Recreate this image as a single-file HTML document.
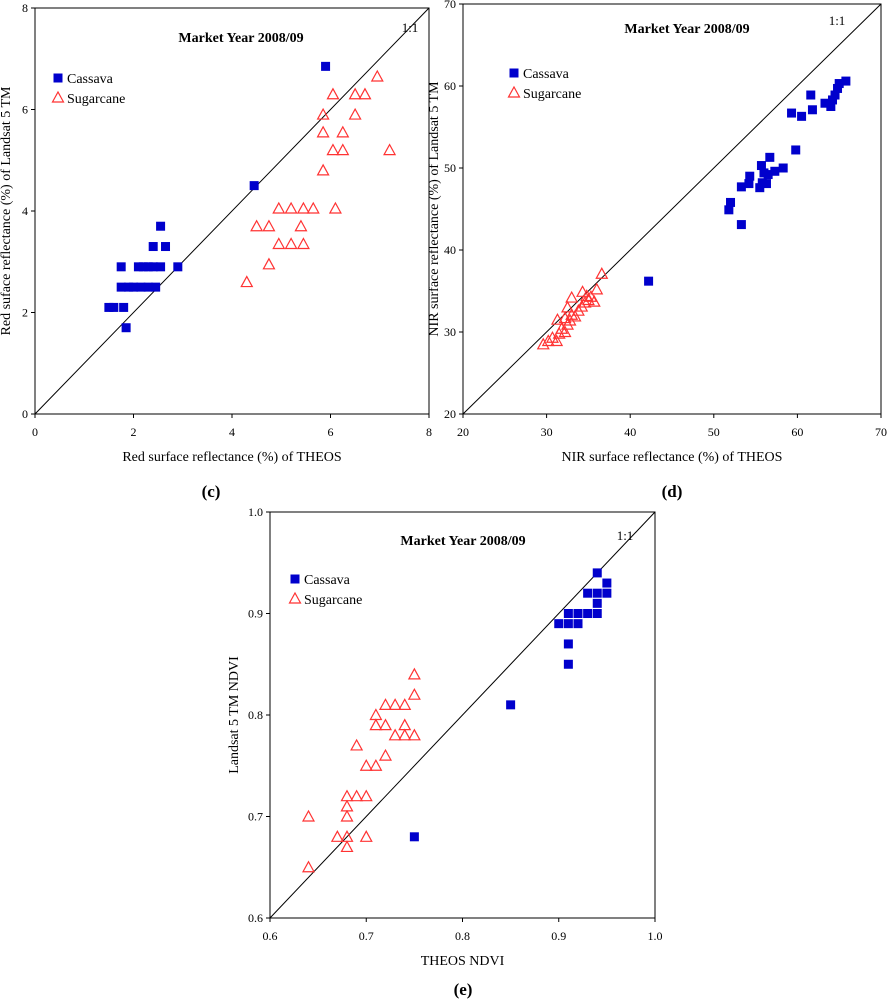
<!DOCTYPE html>
<html><head><meta charset="utf-8"><style>
body{margin:0;background:#fff;}
svg, svg text{font-family:"Liberation Serif","DejaVu Serif",serif;}
</style></head><body>
<svg id="s" width="889" height="1000" viewBox="0 0 889 1000" font-family="Liberation Serif, serif"></svg>
<script>
const cRedCassX=[1.5,1.6,1.8,1.85,1.75,1.9,2.0,2.15,2.3,2.45,1.75,2.1,2.2,2.3,2.4,2.55,2.9,2.4,2.65,2.55,4.45,5.9];
const cRedCassY=[2.1,2.1,2.1,1.7,2.5,2.5,2.5,2.5,2.5,2.5,2.9,2.9,2.9,2.9,2.9,2.9,2.9,3.3,3.3,3.7,4.5,6.85];
const cRedSugX=[4.3,4.75,4.5,4.75,5.4,4.95,5.2,5.45,4.95,5.2,5.45,5.65,6.1,5.85,6.05,6.25,7.2,5.85,6.25,5.85,6.5,6.05,6.5,6.7,6.95];
const cRedSugY=[2.6,2.95,3.7,3.7,3.7,3.35,3.35,3.35,4.05,4.05,4.05,4.05,4.05,4.8,5.2,5.2,5.2,5.55,5.55,5.9,5.9,6.3,6.3,6.3,6.65];
const dNirCassX=[42.2,53.3,51.8,52,53.3,54.2,54.3,55.5,55.8,56.3,55.7,56,56.5,56.7,57.3,58.3,59.8,59.3,60.5,61.8,61.6,63.3,64,64.2,64.5,64.8,65,65.8];
const dNirCassY=[36.2,43.1,44.9,45.8,47.7,48.1,49,47.6,48.2,48.1,50.3,49.4,49.2,51.3,49.6,50,52.2,56.7,56.3,57.1,58.9,57.9,57.5,58.3,58.9,59.7,60.3,60.6];
const dNirSugX=[29.6,30.2,30.7,31.2,31.5,31.8,32.2,32.5,32.8,31.3,32.2,33,33.4,33.8,34.2,34.6,35,35.3,35.7,33,34.3,36,36.6,32.5,34.8];
const dNirSugY=[28.5,28.9,29.3,28.9,29.8,30.4,30,30.9,31.4,31.5,31.7,32.1,31.9,32.6,33.1,33.6,33.9,34.3,33.7,34.2,34.9,35.2,37.1,33,34.4];
const eNdviCassX=[0.75,0.85,0.91,0.91,0.90,0.91,0.92,0.91,0.92,0.93,0.94,0.94,0.93,0.94,0.95,0.95,0.94];
const eNdviCassY=[0.68,0.81,0.85,0.87,0.89,0.89,0.89,0.90,0.90,0.90,0.90,0.91,0.92,0.92,0.92,0.93,0.94];
const eNdviSugX=[0.64,0.64,0.67,0.68,0.68,0.70,0.68,0.68,0.68,0.69,0.70,0.70,0.71,0.69,0.72,0.71,0.72,0.73,0.74,0.75,0.74,0.71,0.72,0.73,0.74,0.75,0.75];
const eNdviSugY=[0.70,0.65,0.68,0.68,0.67,0.68,0.70,0.71,0.72,0.72,0.72,0.75,0.75,0.77,0.76,0.79,0.79,0.78,0.78,0.78,0.79,0.80,0.81,0.81,0.81,0.82,0.84];
const cTicks=[0,2,4,6,8];
const dTicks=[20,30,40,50,60,70];
const eTicks=[0.6,0.7,0.8,0.9,1.0];
const eTickLabels=["0.6","0.7","0.8","0.9","1.0"];

const NS="http://www.w3.org/2000/svg";
const svg=document.getElementById('s');
const FF='"Liberation Serif", serif';
function mk(tag,attrs,parent,text){const e=document.createElementNS(NS,tag);for(const k in attrs)e.setAttribute(k,attrs[k]);if(text!==undefined){e.textContent=text;e.style.fontFamily=FF;}(parent||svg).appendChild(e);return e;}

function panel(p){
  const g=mk('g',{});
  
  
  const sx=v=>p.l+(v-p.min)/(p.max-p.min)*(p.r-p.l);
  const sy=v=>p.b-(v-p.min)/(p.max-p.min)*(p.b-p.t);
  const fr=mk('rect',{x:p.l,y:p.t,width:p.r-p.l,height:p.b-p.t,fill:'none',stroke:'#000','stroke-width':1},g);
  
  
  const ln=mk('line',{x1:sx(p.min),y1:sy(p.min),x2:sx(p.max),y2:sy(p.max),stroke:'#000','stroke-width':1},g);
  
  
  p.ticks.forEach((v,i)=>{
    const lab=p.labels?p.labels[i]:String(v);
    mk('line',{x1:sx(v),y1:p.b,x2:sx(v),y2:p.b+4,stroke:'#000'},g);
    const tx=mk('text',{x:sx(v),y:p.b+22,'font-size':12,'text-anchor':'middle'},g,lab);
    
    
    mk('line',{x1:p.l-4,y1:sy(v),x2:p.l,y2:sy(v),stroke:'#000'},g);
    const ty=mk('text',{x:p.l-7,y:sy(v)+4,'font-size':12,'text-anchor':'end'},g,lab);
    
    
  });
  const xt=mk('text',{x:(p.l+p.r)/2,y:p.b+47,'font-size':14,'text-anchor':'middle'},g,p.xl);
  
  
  const yt=mk('text',{x:0,y:0,'font-size':14,'text-anchor':'middle',transform:`translate(${p.ylx},${(p.t+p.b)/2}) rotate(-90)`},g,p.yl);
  
  
  const ti=mk('text',{x:p.titx,y:p.tity,'font-size':14,'font-weight':'bold','text-anchor':'middle'},g,'Market Year 2008/09');
  
  
  const oo=mk('text',{x:p.oox,y:p.ooy,'font-size':13,'text-anchor':'middle'},g,'1:1');
  
  
  const pl=mk('text',{x:p.plx,y:p.ply,'font-size':17,'font-weight':'bold','text-anchor':'middle'},g,p.pl);
  
  
  const lg=mk('g',{},g);
  
  
  mk('rect',{x:p.lgx-4.5,y:p.lgy-4.5,width:9,height:9,fill:'#0000cc'},lg);
  mk('text',{x:p.lgx+9,y:p.lgy+5,'font-size':14},lg,'Cassava');
  mk('path',{d:`M${p.lgx-5.5},${p.lgy+24} L${p.lgx},${p.lgy+14} L${p.lgx+5.5},${p.lgy+24} Z`,fill:'none',stroke:'#ff3333','stroke-width':1.2},lg);
  mk('text',{x:p.lgx+9,y:p.lgy+25,'font-size':14},lg,'Sugarcane');
  p.sx.forEach((v,i)=>{
    const tr=mk('path',{d:`M${sx(v)-5.5},${sy(p.sy[i])+4.5} L${sx(v)},${sy(p.sy[i])-5.5} L${sx(v)+5.5},${sy(p.sy[i])+4.5} Z`,fill:'none',stroke:'#ff3333','stroke-width':1.2},g);
    
    
  });
  p.cx.forEach((v,i)=>{
    const r=mk('rect',{x:sx(v)-4.5,y:sy(p.cy[i])-4.5,width:9,height:9,fill:'#0000cc'},g);
    
    
  });
}
panel({id:'red',l:35,r:429,t:8,b:414,min:0,max:8,ticks:cTicks,cx:cRedCassX,cy:cRedCassY,sx:cRedSugX,sy:cRedSugY,
  xl:'Red surface reflectance (%) of THEOS',yl:'Red suface reflectance (%) of Landsat 5 TM',ylx:10,
  titx:241,tity:42,oox:410,ooy:32,plx:211,ply:497,pl:'(c)',lgx:58,lgy:78});
panel({id:'nir',l:463,r:881,t:4,b:414,min:20,max:70,ticks:dTicks,cx:dNirCassX,cy:dNirCassY,sx:dNirSugX,sy:dNirSugY,
  xl:'NIR surface reflectance (%) of THEOS',yl:'NIR surface reflectance (%) of Landsat 5 TM',ylx:438,
  titx:687,tity:33,oox:837,ooy:25,plx:672,ply:497,pl:'(d)',lgx:514,lgy:73});
panel({id:'ndvi',l:270,r:655,t:512,b:918,min:0.6,max:1.0,ticks:eTicks,labels:eTickLabels,cx:eNdviCassX,cy:eNdviCassY,sx:eNdviSugX,sy:eNdviSugY,
  xl:'THEOS NDVI',yl:'Landsat 5 TM NDVI',ylx:238,
  titx:463,tity:545,oox:625,ooy:540,plx:463,ply:995,pl:'(e)',lgx:295,lgy:579});
</script>
</body></html>
